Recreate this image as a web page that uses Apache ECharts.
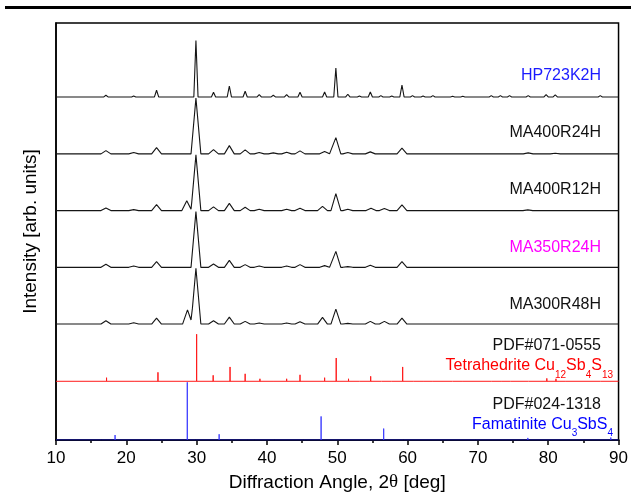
<!DOCTYPE html>
<html>
<head>
<meta charset="utf-8">
<script src="https://cdn.jsdelivr.net/npm/echarts@6/dist/echarts.min.js"></script>
<style>
  html, body { margin: 0; padding: 0; background: #fff; }
  #chart { width: 631px; height: 497px; }
</style>
</head>
<body>
<div id="chart"></div>
<script>
// Peak list of each measured pattern: [2θ (deg), peak height (arb. units)]
const hp723k2h = [
  [17.1, 1.7], [21.05, 1], [24.3, 6.7], [29.9, 56.6], [32.4, 4.7], [34.65, 11],
  [36.9, 5.7], [38.9, 2.3], [40.9, 1.7], [42.8, 2.3], [44.7, 4.7], [48.2, 5],
  [49.8, 29], [51.5, 2.7], [53.15, 1], [54.7, 5], [56.2, 1.3], [57.75, 1],
  [59.2, 12], [60.7, 1.3], [62.2, 1], [63.6, 1.3], [66.4, 0.7], [67.85, 0.7],
  [71.9, 1.3], [73.2, 1.3], [74.5, 1.3], [77.15, 1.3], [79.7, 2.3], [81.0, 2],
  [87.4, 1.3]
];
const ma400r24h = [
  [17.1, 3.3], [21.05, 1.3], [24.3, 6.3], [29.9, 56], [32.4, 4.3], [34.65, 8.3],
  [36.9, 4], [38.9, 1.3], [40.9, 1], [42.8, 1.7], [44.7, 3], [48.2, 2.3],
  [49.8, 16.3], [51.5, 1.3], [54.7, 2], [59.2, 5.7], [77.15, 1], [81.0, 0.7]
];
const ma400r12h = [
  [17.1, 2.7], [21.05, 1], [24.3, 6], [28.6, 10], [29.9, 56], [32.4, 3.7],
  [34.65, 7.3], [36.9, 3.3], [38.9, 1.3], [42.8, 1.3], [44.7, 2.3], [47.9, 4.3],
  [49.8, 17], [51.5, 1.3], [54.8, 2.3], [56.7, 2], [59.2, 5.7], [77.1, 0.7]
];
const ma350r24h = [
  [17.1, 3], [21.05, 1.3], [24.3, 5.7], [29.9, 56], [32.4, 3.3], [34.65, 7],
  [36.9, 2.7], [38.9, 1.3], [42.8, 1.3], [44.7, 2.7], [48.2, 1.7], [49.8, 16],
  [51.5, 0.7], [54.7, 2], [59.2, 5.7]
];
const ma300r48h = [
  [17.1, 3.3], [21.05, 1.3], [24.3, 6], [28.7, 14.3], [29.9, 56], [32.4, 3.3],
  [34.65, 7], [36.9, 2.7], [38.9, 1], [42.8, 1], [44.7, 2.3], [47.9, 6.7],
  [49.8, 15], [51.5, 0.7], [54.7, 2.7], [56.7, 2.7], [59.2, 6]
];

// Reference line patterns: [2θ (deg), relative intensity]
const tetrahedrite = [
  [17.19, 3.6], [21.1, 1.8], [24.5, 9], [30.0, 47.3], [32.35, 6], [34.75, 14.4],
  [36.9, 7.5], [39.0, 2.5], [41.0, 1.5], [42.8, 2.5], [44.7, 6.5], [48.2, 3.6],
  [49.85, 23.4], [51.6, 2.5], [53.2, 0.7], [54.75, 5], [56.3, 1.8], [57.75, 0.7],
  [59.3, 14.4], [60.8, 1.5], [62.2, 0.7], [63.6, 1.8], [66.4, 0.7], [67.75, 0.4],
  [71.9, 1.8], [73.3, 1.8], [74.6, 1.8], [77.2, 0.7], [79.8, 2.9], [81.1, 2.5],
  [82.4, 0.7], [87.4, 1.5]
];
const famatinite = [
  [16.5, 0.7], [18.4, 5], [23.4, 1.4], [28.67, 58], [29.8, 1.4], [33.2, 5.8],
  [37.3, 1], [38.2, 1.8], [41.1, 0.4], [45.25, 1.4], [47.7, 23.7], [56.6, 11.5],
  [59.4, 0.7], [69.7, 1], [77.1, 2.1], [88.9, 2.5]
];

const sampleNames = ['HP723K2H', 'MA400R24H', 'MA400R12H', 'MA350R24H', 'MA300R48H'];
const sampleColors = ['#1a1aff', '#111111', '#111111', '#ff00ff', '#111111'];
const sampleOffsets = [344.7, 287.5, 230.5, 173.5, 116.5];
const tetrahedriteOffset = 59;
const famatiniteOffset = 0;
const xMin = 10, xMax = 90, xStep = 10;

// Vertices of a pattern built as a sum of triangular peaks on a flat baseline
function profile(peaks, halfWidth, offset) {
  const xs = new Set([xMin, xMax]);
  peaks.forEach(([p]) => { xs.add(p - halfWidth); xs.add(p); xs.add(p + halfWidth); });
  const sorted = [...xs].filter(x => x >= xMin && x <= xMax).sort((a, b) => a - b);
  return sorted.map(x => {
    let y = 0;
    peaks.forEach(([p, h]) => {
      const d = Math.abs(x - p);
      if (d < halfWidth) y += h * (1 - d / halfWidth);
    });
    return [x, offset + y];
  });
}

// Vertical sticks standing on a baseline
function sticks(lines, offset) {
  const pts = [[xMin, offset]];
  lines.forEach(([p, h]) => { pts.push([p, offset], [p, offset + h], [p, offset]); });
  pts.push([xMax, offset]);
  return pts;
}

const samplePeaks = [hp723k2h, ma400r24h, ma400r12h, ma350r24h, ma300r48h];
const halfWidths = [0.3, 0.7, 0.7, 0.7, 0.7];

const font = '"Liberation Sans", Arial, Helvetica, sans-serif';

const series = samplePeaks.map((pk, i) => ({
  type: 'line',
  name: sampleNames[i],
  data: profile(pk, halfWidths[i], sampleOffsets[i]),
  showSymbol: false,
  lineStyle: { color: '#151515', width: 1.1 },
  silent: true
}));
series.push({
  type: 'line', name: 'PDF#071-0555',
  data: sticks(tetrahedrite, tetrahedriteOffset),
  showSymbol: false,
  lineStyle: { color: '#ff1a1a', width: 1 },
  silent: true
});
series.push({
  type: 'line', name: 'PDF#024-1318',
  data: sticks(famatinite, famatiniteOffset),
  showSymbol: false,
  lineStyle: { color: '#3030ff', width: 1, opacity: 0.85 },
  silent: true
});

function label(text, y, color) {
  return {
    type: 'text', x: 601, y: y, silent: true,
    style: { text: text, fill: color, font: '16px ' + font, align: 'right', verticalAlign: 'middle' }
  };
}
function formulaLabel(parts, y, color) {
  return {
    type: 'text', x: 613, y: y, silent: true,
    style: {
      text: parts, align: 'right', verticalAlign: 'middle',
      rich: {
        n: { fontSize: 16, fontFamily: font, fill: color, color: color, lineHeight: 28 },
        s: { fontSize: 10, fontFamily: font, fill: color, color: color, lineHeight: 11, verticalAlign: 'bottom' }
      }
    }
  };
}

const labelY = [76, 132.5, 190, 247.7, 305];
const graphics = sampleNames.map((n, i) => label(n, labelY[i], sampleColors[i]));
graphics.push(label('PDF#071-0555', 346, '#111'));
graphics.push(formulaLabel('{n|Tetrahedrite Cu}{s|12}{n|Sb}{s|4}{n|S}{s|13}', 366, '#ff0000'));
graphics.push(label('PDF#024-1318', 404.5, '#111'));
graphics.push(formulaLabel('{n|Famatinite Cu}{s|3}{n|SbS}{s|4}', 424.5, '#0000ff'));
graphics.push({
  type: 'rect', silent: true,
  shape: { x: 5, y: 6, width: 626, height: 3 },
  style: { fill: '#000' }
});

const chart = echarts.init(document.getElementById('chart'), null, { renderer: 'canvas' });
chart.setOption({
  animation: false,
  backgroundColor: '#fff',
  grid: {
    left: 56, right: 12, top: 23, bottom: 55,
    show: true, borderColor: '#000', borderWidth: 1.5, backgroundColor: 'transparent'
  },
  xAxis: {
    type: 'value', min: xMin, max: xMax, interval: xStep,
    axisLine: { lineStyle: { color: '#000', width: 2 } },
    axisTick: { inside: false, length: 5, lineStyle: { color: '#000', width: 1.5 } },
    minorTick: { show: true, splitNumber: 2, length: 3, lineStyle: { color: '#000', width: 1.5 } },
    splitLine: { show: false },
    axisLabel: { color: '#000', fontSize: 17, fontFamily: font, margin: 10 },
    name: 'Diffraction Angle, 2{t|θ} [deg]',
    nameLocation: 'middle', nameGap: 33,
    nameTextStyle: {
      color: '#000', fontSize: 19, fontFamily: font,
      rich: { t: { fontSize: 19, fontFamily: '"Liberation Serif", "Times New Roman", serif', color: '#000' } }
    }
  },
  yAxis: {
    type: 'value', min: 0, max: 419,
    axisLine: { show: true, lineStyle: { color: '#000', width: 1.5 } },
    axisTick: { show: false },
    axisLabel: { show: false },
    splitLine: { show: false },
    name: 'Intensity [arb. units]',
    nameLocation: 'middle', nameGap: 16,
    nameTextStyle: { color: '#000', fontSize: 19, fontFamily: font }
  },
  series: series,
  graphic: graphics
});
</script>
</body>
</html>
